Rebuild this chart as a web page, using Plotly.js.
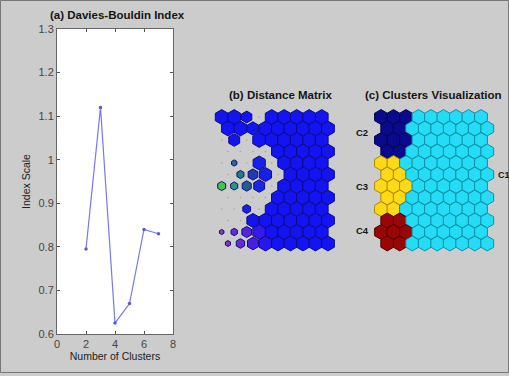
<!DOCTYPE html>
<html><head><meta charset="utf-8">
<script src="https://cdn.plot.ly/plotly-3.0.1.min.js"></script>
<style>html,body{margin:0;padding:0;background:#cccccc;overflow:hidden;}</style>
</head><body><div id="chart" style="width:509px;height:376px;"></div>
<script>
// ---- data ----
const clusterCounts = [2, 3, 4, 5, 6, 7];
const dbIndex = [0.795, 1.12, 0.625, 0.67, 0.84, 0.83];
const yTicks = [0.6, 0.7, 0.8, 0.9, 1, 1.1, 1.2, 1.3];
const yTickText = ['0.6', '0.7', '0.8', '0.9', '1', '1.1', '1.2', '1.3'];
const xTicks = [0, 2, 4, 6, 8];

const panelTitles = ['(a) Davies-Bouldin Index', '(b) Distance Matrix', '(c) Clusters Visualization'];
const clusterLabels = ['C1', 'C2', 'C3', 'C4'];

// distance matrix: relative hexagon size per map unit (row by row, 12 rows x 9 cols)
const distSize = [
  [1.00, 1.00, 0.80, 0,    1, 1, 1, 1, 1],
  [1.00, 1.00, 0.90, 1.00, 1, 1, 1, 1, 1],
  [0,    0.85, 0,    1.00, 1, 1, 1, 1, 1],
  [0,    0,    0,    0,    1, 1, 1, 1, 1],
  [0,    0.42, 0,    0.95, 0, 1, 1, 1, 1],
  [0,    0.55, 0.75, 0.95, 0, 1, 1, 1, 1],
  [0.62, 0.55, 0.70, 0.85, 0, 1, 1, 1, 1],
  [0,    0,    0,    0,    1, 1, 1, 1, 1],
  [0,    0,    0.60, 0,    1, 1, 1, 1, 1],
  [0,    0,    0.95, 1.00, 1, 1, 1, 1, 1],
  [0.35, 0.50, 0.75, 1.00, 1, 1, 1, 1, 1],
  [0.40, 0.65, 0.85, 1.00, 1, 1, 1, 1, 1]
];
const B = '#1414f2';
const distColor = [
  [B, B, B, B, B, B, B, B, B],
  [B, B, B, B, B, B, B, B, B],
  [B, B, B, B, B, B, B, B, B],
  [B, B, B, B, B, B, B, B, B],
  [B, '#2f6494', B, '#1820e6', B, B, B, B, B],
  [B, '#1f7f80', '#1c3cb0', '#1820e6', B, B, B, B, B],
  ['#3ccc3c', '#289a76', '#22608e', '#1826e0', B, B, B, B, B],
  [B, B, B, B, B, B, B, B, B],
  [B, B, '#1a20e0', B, B, B, B, B, B],
  [B, B, B, B, B, B, B, B, B],
  ['#8838b0', '#6e2cc8', '#5822dc', '#3818e8', B, B, B, B, B],
  ['#8834b8', '#682ad0', '#4a1ee0', '#2818ec', B, B, B, B, B]
];

// cluster of each map unit (1..4)
const clusterMap = [
  [2, 2, 2, 1, 1, 1, 1, 1, 1],
  [2, 2, 1, 1, 1, 1, 1, 1, 1],
  [2, 2, 2, 1, 1, 1, 1, 1, 1],
  [2, 2, 1, 1, 1, 1, 1, 1, 1],
  [3, 3, 1, 1, 1, 1, 1, 1, 1],
  [3, 3, 1, 1, 1, 1, 1, 1, 1],
  [3, 3, 3, 1, 1, 1, 1, 1, 1],
  [3, 3, 1, 1, 1, 1, 1, 1, 1],
  [3, 3, 1, 1, 1, 1, 1, 1, 1],
  [4, 4, 1, 1, 1, 1, 1, 1, 1],
  [4, 4, 4, 1, 1, 1, 1, 1, 1],
  [4, 4, 1, 1, 1, 1, 1, 1, 1]
];
const clusterFill = {1: '#24dcf6', 2: '#0a0a8c', 3: '#ffd816', 4: '#980606'};
const clusterEdge = {1: '#0c90a6', 2: '#04044e', 3: '#a88c00', 4: '#560000'};

// ---- build ----
const W = 509, H = 376;
const px = v => v / W;
const py = v => 1 - v / H;
const HEX = 14.8;

const hx = [], hy = [], hs = [], hc = [], dotx = [], doty = [];
distSize.forEach((row, r) => row.forEach((s, c) => {
  const x = c + (r % 2 ? 0.5 : 0);
  if (s > 0) { hx.push(x); hy.push(r); hs.push(HEX * s); hc.push(distColor[r][c]); }
  else { dotx.push(x); doty.push(r); }
}));
const cx = [], cy = [], cf = [], ce = [];
clusterMap.forEach((row, r) => row.forEach((k, c) => {
  cx.push(c + (r % 2 ? 0.5 : 0)); cy.push(r); cf.push(clusterFill[k]); ce.push(clusterEdge[k]);
}));

const traces = [
  {x: clusterCounts, y: dbIndex, xaxis: 'x', yaxis: 'y', type: 'scatter', mode: 'lines+markers',
   line: {color: '#7878ea', width: 1.2}, marker: {color: '#5a5ad8', size: 3.5, opacity: 1}, hoverinfo: 'x+y'},
  {x: dotx, y: doty, xaxis: 'x2', yaxis: 'y2', type: 'scatter', mode: 'markers',
   marker: {symbol: 'circle', size: 1.6, color: '#b2a48a', opacity: 1}, hoverinfo: 'skip'},
  {x: hx, y: hy, xaxis: 'x2', yaxis: 'y2', type: 'scatter', mode: 'markers',
   marker: {symbol: 'hexagon', size: hs, color: hc, opacity: 1, line: {color: '#0c0c86', width: 1}}, hoverinfo: 'skip'},
  {x: cx, y: cy, xaxis: 'x3', yaxis: 'y3', type: 'scatter', mode: 'markers',
   marker: {symbol: 'hexagon', size: HEX, color: cf, opacity: 1, line: {color: ce, width: 1}}, hoverinfo: 'skip'}
];

const fnt = 'Liberation Sans, Arial, sans-serif';
const hidden = {visible: false, showgrid: false, zeroline: false, fixedrange: true};
const rowTop = 117, rowStep = 11.5, y0p = 104, y1p = 256;
const yr = [(y1p - rowTop) / rowStep, (y0p - rowTop) / rowStep];
const colStep = 12.5;
function xr(x0pix, left, right) { return [(left - x0pix) / colStep, (right - x0pix) / colStep]; }
function label(text, x, y, size, xanchor) {
  return {text: '<b>' + text + '</b>', x: px(x), y: py(y), xref: 'paper', yref: 'paper',
    xanchor: xanchor || 'center', yanchor: 'middle', showarrow: false, font: {size: size, color: '#151515'}};
}

const layout = {
  width: W, height: H, margin: {l: 0, r: 0, t: 0, b: 0},
  paper_bgcolor: '#cccccc', plot_bgcolor: 'rgba(0,0,0,0)', showlegend: false,
  font: {family: fnt, size: 10, color: '#333'},
  xaxis: {domain: [px(57), px(173)], range: [0, 8], tickvals: xTicks, ticks: 'inside', ticklen: 3,
    tickcolor: '#555', showline: true, linecolor: '#666', linewidth: 1, mirror: 'ticks',
    showgrid: false, zeroline: false, tickfont: {size: 11, color: '#444'}, fixedrange: true,
    title: {text: 'Number of Clusters', standoff: 2, font: {size: 10.5, color: '#222'}}},
  yaxis: {domain: [py(334), py(29)], range: [0.6, 1.3], tickvals: yTicks, ticktext: yTickText,
    ticks: 'inside', ticklen: 3, tickcolor: '#555', showline: true, linecolor: '#666', linewidth: 1,
    mirror: 'ticks', showgrid: false, zeroline: false, tickfont: {size: 11, color: '#444'}, fixedrange: true,
    title: {text: 'Index Scale', standoff: 5, font: {size: 10.5, color: '#222'}}},
  xaxis2: Object.assign({domain: [px(210), px(340)], range: xr(221.7, 210, 340), anchor: 'y2'}, hidden),
  yaxis2: Object.assign({domain: [py(y1p), py(y0p)], range: yr, anchor: 'x2'}, hidden),
  xaxis3: Object.assign({domain: [px(370), px(500)], range: xr(381, 370, 500), anchor: 'y3'}, hidden),
  yaxis3: Object.assign({domain: [py(y1p), py(y0p)], range: yr, anchor: 'x3'}, hidden),
  annotations: [
    label(panelTitles[0], 117, 15, 11.5),
    label(panelTitles[1], 280, 95, 11.5),
    label(panelTitles[2], 433, 95, 11.5),
    label(clusterLabels[1], 362, 132, 9.5),
    label(clusterLabels[2], 362, 186, 9.5),
    label(clusterLabels[3], 362, 230, 9.5),
    label(clusterLabels[0], 495.5, 175, 9, 'left')
  ],
  shapes: [
    {type: 'rect', xref: 'x domain', yref: 'y domain', x0: 0, x1: 1, y0: 0, y1: 1,
     fillcolor: '#ffffff', line: {width: 0}, layer: 'below'},
    {type: 'rect', xref: 'paper', yref: 'paper', x0: px(0.5), x1: px(508.5), y0: py(372.5), y1: py(0.5), line: {color: '#777', width: 1}}
  ]
};

Plotly.newPlot('chart', traces, layout, {staticPlot: true, displayModeBar: false});
</script></body></html>
